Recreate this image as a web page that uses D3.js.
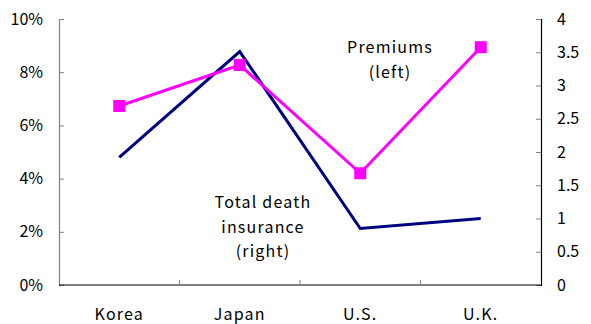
<!DOCTYPE html>
<html>
<head>
<meta charset="utf-8">
<script src="https://cdn.jsdelivr.net/npm/d3@7"></script>
<style>
  html, body { margin: 0; padding: 0; background: #fff; }
  svg { display: block; }
  text { font-family: "Noto Sans CJK JP", "Noto Sans", sans-serif; fill: #000; }
  .wide { letter-spacing: 1.2px; }
</style>
</head>
<body>
<svg id="chart" width="591" height="324"></svg>
<script>
// Countries on the category axis
const countries = ["Korea", "Japan", "U.S.", "U.K."];
// Premiums as share of GDP (left axis, %)
const premiums = [6.73, 8.27, 4.2, 8.94];
// Total death insurance (right axis, multiple)
const deathInsurance = [1.92, 3.51, 0.85, 1.0];
// Axis ticks
const leftTicks = [0, 2, 4, 6, 8, 10];
const rightTicks = [0, 0.5, 1, 1.5, 2, 2.5, 3, 3.5, 4];

const svg = d3.select("#chart");
const plot = { left: 59, right: 541, top: 19, bottom: 285 };

const x = d3.scaleBand().domain(countries).range([plot.left, plot.right]);
const yL = d3.scaleLinear().domain([0, 10]).range([plot.bottom, plot.top]);
const yR = d3.scaleLinear().domain([0, 4]).range([plot.bottom, plot.top]);
const cx = d => x(d) + x.bandwidth() / 2;

// Left axis
const gL = svg.append("g").attr("transform", `translate(${plot.left},0)`)
  .call(d3.axisRight(yL).tickValues(leftTicks).tickSize(5).tickFormat(d => d + "%"));
gL.select(".domain").attr("stroke", "#7f7f7f").attr("stroke-width", 1.2);
gL.selectAll(".tick line").attr("stroke", "#7f7f7f");
gL.selectAll(".tick text").attr("x", -16).attr("text-anchor", "end")
  .style("font-size", "16px");

// Right axis
const gR = svg.append("g").attr("transform", `translate(${plot.right},0)`)
  .call(d3.axisLeft(yR).tickValues(rightTicks).tickSize(5).tickFormat(d3.format("")));
gR.select(".domain").attr("stroke", "#000").attr("stroke-width", 1.2);
gR.selectAll(".tick line").attr("stroke", "#7f7f7f");
gR.selectAll(".tick text").attr("x", 16).attr("text-anchor", "start")
  .style("font-size", "16px");

// Bottom axis: divider ticks between categories, labels centred in each band
const gB = svg.append("g").attr("transform", `translate(0,${plot.bottom})`);
gB.append("line").attr("x1", plot.left).attr("x2", plot.right)
  .attr("stroke", "#000").attr("stroke-width", 1.2);
gB.selectAll("line.div").data(countries.slice(1)).join("line")
  .attr("class", "div")
  .attr("x1", d => x(d)).attr("x2", d => x(d))
  .attr("y1", 0).attr("y2", -5).attr("stroke", "#7f7f7f");
gB.selectAll("text").data(countries).join("text")
  .attr("class", "wide")
  .attr("x", cx).attr("y", 35).attr("text-anchor", "middle")
  .style("font-size", "16px").text(d => d);

// Total death insurance line (right axis)
svg.append("path").datum(deathInsurance)
  .attr("fill", "none").attr("stroke", "#000080").attr("stroke-width", 3)
  .attr("d", d3.line().x((d, i) => cx(countries[i])).y(d => yR(d)));

// Premiums line with square markers (left axis)
svg.append("path").datum(premiums)
  .attr("fill", "none").attr("stroke", "#ff00ff").attr("stroke-width", 3)
  .attr("d", d3.line().x((d, i) => cx(countries[i])).y(d => yL(d)));
svg.selectAll("rect.mk").data(premiums).join("rect")
  .attr("class", "mk")
  .attr("x", (d, i) => cx(countries[i]) - 6).attr("y", d => yL(d) - 6)
  .attr("width", 12).attr("height", 12).attr("fill", "#ff00ff");

// Series annotations
const notes = [
  { lines: ["Premiums", "(left)"], x: 390, y: 53 },
  { lines: ["Total death", "insurance", "(right)"], x: 263, y: 208 }
];
notes.forEach(n => {
  const t = svg.append("text").attr("class", "wide")
    .attr("text-anchor", "middle").style("font-size", "16px");
  n.lines.forEach((s, i) => t.append("tspan").attr("x", n.x).attr("y", n.y + i * 24.5).text(s));
});
</script>
</body>
</html>
